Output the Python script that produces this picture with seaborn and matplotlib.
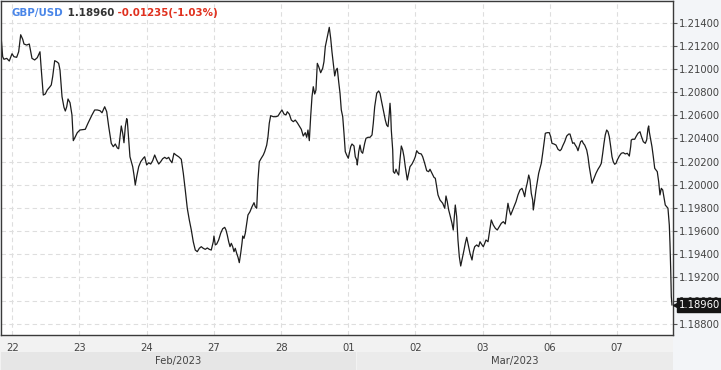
import matplotlib
matplotlib.use("Agg")
import matplotlib.pyplot as plt
import matplotlib.transforms as mtransforms
from matplotlib.patches import Rectangle
import seaborn as sns
import pandas as pd

# ---- data (x = trading-day position, 0 = Feb 22 tick) ----
day_pos = [
    -0.164, -0.143, -0.124, -0.083, -0.045, -0.004, 0.025, 0.065, 0.095, 0.125,
    0.155, 0.174, 0.214, 0.253, 0.293, 0.333, 0.372, 0.412, 0.432, 0.461,
    0.491, 0.521, 0.561, 0.580, 0.601, 0.631, 0.661, 0.690, 0.710, 0.740,
    0.769, 0.789, 0.810, 0.829, 0.859, 0.888, 0.908, 0.938, 0.967, 1.007,
    1.086, 1.126, 1.186, 1.226, 1.265, 1.305, 1.335, 1.375, 1.405, 1.435,
    1.454, 1.473, 1.503, 1.533, 1.563, 1.583, 1.603, 1.622, 1.643, 1.662,
    1.682, 1.702, 1.711, 1.732, 1.751, 1.771, 1.792, 1.811, 1.830, 1.851,
    1.881, 1.911, 1.949, 1.970, 2.000, 2.030, 2.060, 2.089, 2.119, 2.149,
    2.179, 2.208, 2.238, 2.268, 2.298, 2.327, 2.347, 2.376, 2.406, 2.436,
    2.476, 2.515, 2.545, 2.574, 2.604, 2.634, 2.664, 2.693, 2.723, 2.753,
    2.783, 2.812, 2.842, 2.872, 2.902, 2.932, 2.961, 2.991, 3.001, 3.021,
    3.042, 3.071, 3.101, 3.131, 3.161, 3.180, 3.199, 3.220, 3.240, 3.259,
    3.280, 3.299, 3.318, 3.339, 3.359, 3.378, 3.399, 3.418, 3.429, 3.448,
    3.467, 3.488, 3.507, 3.537, 3.567, 3.597, 3.616, 3.637, 3.656, 3.676,
    3.705, 3.735, 3.756, 3.786, 3.805, 3.824, 3.845, 3.884, 3.924, 3.954,
    3.984, 4.013, 4.043, 4.073, 4.092, 4.122, 4.152, 4.182, 4.211, 4.241,
    4.271, 4.301, 4.330, 4.360, 4.381, 4.400, 4.420, 4.440, 4.460, 4.479,
    4.500, 4.519, 4.539, 4.560, 4.589, 4.619, 4.638, 4.658, 4.679, 4.698,
    4.717, 4.738, 4.757, 4.777, 4.798, 4.817, 4.836, 4.857, 4.877, 4.896,
    4.917, 4.936, 4.955, 4.976, 5.000, 5.036, 5.055, 5.085, 5.104, 5.125,
    5.134, 5.155, 5.174, 5.193, 5.214, 5.244, 5.263, 5.293, 5.323, 5.353,
    5.372, 5.393, 5.423, 5.452, 5.472, 5.491, 5.512, 5.531, 5.551, 5.571,
    5.591, 5.610, 5.621, 5.631, 5.640, 5.661, 5.670, 5.690, 5.710, 5.729,
    5.750, 5.769, 5.789, 5.810, 5.829, 5.848, 5.878, 5.899, 5.918, 5.948,
    5.978, 5.997, 6.018, 6.048, 6.086, 6.107, 6.137, 6.167, 6.196, 6.216,
    6.246, 6.275, 6.295, 6.315, 6.335, 6.365, 6.405, 6.435, 6.454, 6.473,
    6.494, 6.513, 6.543, 6.562, 6.583, 6.592, 6.613, 6.632, 6.652, 6.673,
    6.692, 6.722, 6.741, 6.762, 6.781, 6.811, 6.841, 6.860, 6.881, 6.911,
    6.940, 6.960, 6.990, 7.009, 7.030, 7.049, 7.079, 7.098, 7.128, 7.158,
    7.188, 7.217, 7.247, 7.277, 7.307, 7.336, 7.357, 7.376, 7.396, 7.417,
    7.436, 7.466, 7.496, 7.525, 7.555, 7.585, 7.604, 7.625, 7.644, 7.664,
    7.685, 7.704, 7.723, 7.744, 7.753, 7.774, 7.793, 7.813, 7.833, 7.853,
    7.872, 7.893, 7.912, 7.932, 7.961, 7.991, 8.012, 8.031, 8.061, 8.091,
    8.121, 8.150, 8.170, 8.190, 8.220, 8.250, 8.280, 8.299, 8.318, 8.339,
    8.359, 8.378, 8.399, 8.418, 8.438, 8.458, 8.478, 8.497, 8.518, 8.548,
    8.567, 8.586, 8.607, 8.627, 8.646, 8.667, 8.686, 8.716, 8.746, 8.765,
    8.786, 8.805, 8.824, 8.845, 8.865, 8.884, 8.905, 8.924, 8.943, 8.964,
    8.984, 9.003, 9.033, 9.063, 9.092, 9.122, 9.152, 9.182, 9.202, 9.211,
    9.232, 9.262, 9.281, 9.311, 9.341, 9.360, 9.390, 9.420, 9.440, 9.460,
    9.470, 9.479, 9.500, 9.519, 9.539, 9.560, 9.579, 9.598, 9.619, 9.638,
    9.658, 9.679, 9.698, 9.717, 9.738, 9.757, 9.777, 9.787, 9.798, 9.807,
    9.817,
]

price = [
    1.21259, 1.21106, 1.21084, 1.21092, 1.21069, 1.21132, 1.21106, 1.21101, 1.21149, 1.21296,
    1.21257, 1.21216, 1.21207, 1.21216, 1.21092, 1.21078, 1.21098, 1.21149, 1.20991, 1.20775,
    1.20784, 1.20819, 1.20847, 1.20862, 1.20934, 1.21072, 1.21063, 1.21049, 1.20991, 1.20761,
    1.20669, 1.20637, 1.20674, 1.20741, 1.20709, 1.20603, 1.20381, 1.20415, 1.20450, 1.20473,
    1.20479, 1.20531, 1.20603, 1.20646, 1.20646, 1.20640, 1.20622, 1.20674, 1.20631, 1.20502,
    1.20430, 1.20358, 1.20329, 1.20352, 1.20318, 1.20311, 1.20410, 1.20508, 1.20445, 1.20363,
    1.20502, 1.20571, 1.20559, 1.20387, 1.20242, 1.20199, 1.20156, 1.20084, 1.19998, 1.20070,
    1.20156, 1.20199, 1.20229, 1.20242, 1.20171, 1.20190, 1.20179, 1.20208, 1.20257, 1.20214,
    1.20179, 1.20199, 1.20225, 1.20237, 1.20225, 1.20237, 1.20214, 1.20190, 1.20272, 1.20257,
    1.20242, 1.20220, 1.20099, 1.19955, 1.19797, 1.19696, 1.19609, 1.19508, 1.19436, 1.19422,
    1.19451, 1.19465, 1.19451, 1.19442, 1.19454, 1.19442, 1.19436, 1.19508, 1.19557, 1.19480,
    1.19488, 1.19523, 1.19581, 1.19620, 1.19632, 1.19609, 1.19566, 1.19508, 1.19465, 1.19494,
    1.19465, 1.19422, 1.19451, 1.19408, 1.19373, 1.19327, 1.19408, 1.19494, 1.19557, 1.19537,
    1.19581, 1.19667, 1.19739, 1.19767, 1.19810, 1.19845, 1.19810, 1.19797, 1.20041, 1.20199,
    1.20229, 1.20257, 1.20286, 1.20343, 1.20415, 1.20531, 1.20597, 1.20588, 1.20588, 1.20594,
    1.20622, 1.20646, 1.20611, 1.20603, 1.20631, 1.20611, 1.20559, 1.20545, 1.20559, 1.20536,
    1.20508, 1.20479, 1.20421, 1.20450, 1.20410, 1.20473, 1.20381, 1.20588, 1.20761, 1.20847,
    1.20784, 1.20819, 1.21049, 1.21020, 1.20968, 1.21006, 1.21063, 1.21193, 1.21251, 1.21308,
    1.21360, 1.21265, 1.21149, 1.21049, 1.20940, 1.20991, 1.21006, 1.20890, 1.20790, 1.20646,
    1.20588, 1.20445, 1.20286, 1.20257, 1.20229, 1.20329, 1.20352, 1.20335, 1.20242, 1.20214,
    1.20171, 1.20286, 1.20343, 1.20286, 1.20272, 1.20358, 1.20401, 1.20410, 1.20410, 1.20430,
    1.20531, 1.20674, 1.20790, 1.20810, 1.20790, 1.20732, 1.20674, 1.20617, 1.20559, 1.20516,
    1.20502, 1.20617, 1.20704, 1.20617, 1.20473, 1.20300, 1.20113, 1.20099, 1.20134, 1.20104,
    1.20084, 1.20214, 1.20335, 1.20300, 1.20242, 1.20156, 1.20041, 1.20099, 1.20156, 1.20179,
    1.20214, 1.20242, 1.20294, 1.20272, 1.20266, 1.20242, 1.20185, 1.20121, 1.20113, 1.20134,
    1.20099, 1.20064, 1.20056, 1.19983, 1.19912, 1.19868, 1.19840, 1.19797, 1.19903, 1.19854,
    1.19782, 1.19739, 1.19667, 1.19609, 1.19753, 1.19825, 1.19724, 1.19523, 1.19379, 1.19298,
    1.19350, 1.19436, 1.19494, 1.19546, 1.19494, 1.19408, 1.19350, 1.19422, 1.19465, 1.19480,
    1.19465, 1.19508, 1.19480, 1.19465, 1.19494, 1.19523, 1.19508, 1.19581, 1.19696, 1.19652,
    1.19624, 1.19609, 1.19638, 1.19667, 1.19681, 1.19661, 1.19753, 1.19840, 1.19782, 1.19739,
    1.19767, 1.19810, 1.19854, 1.19912, 1.19955, 1.19969, 1.19940, 1.19897, 1.19969, 1.20018,
    1.20084, 1.20041, 1.19926, 1.19868, 1.19782, 1.19868, 1.19955, 1.20026, 1.20099, 1.20142,
    1.20185, 1.20272, 1.20358, 1.20445, 1.20450, 1.20450, 1.20415, 1.20358, 1.20352, 1.20343,
    1.20306, 1.20294, 1.20306, 1.20335, 1.20372, 1.20421, 1.20438, 1.20438, 1.20401, 1.20358,
    1.20363, 1.20343, 1.20324, 1.20294, 1.20335, 1.20372, 1.20381, 1.20358, 1.20343, 1.20300,
    1.20242, 1.20156, 1.20084, 1.20013, 1.20041, 1.20070, 1.20099, 1.20134, 1.20162, 1.20185,
    1.20272, 1.20358, 1.20430, 1.20473, 1.20458, 1.20415, 1.20329, 1.20242, 1.20199, 1.20177,
    1.20185, 1.20214, 1.20248, 1.20272, 1.20277, 1.20266, 1.20272, 1.20248, 1.20329, 1.20387,
    1.20393, 1.20393, 1.20415, 1.20445, 1.20458, 1.20421, 1.20372, 1.20358, 1.20387, 1.20488,
    1.20508, 1.20458, 1.20393, 1.20329, 1.20242, 1.20142, 1.20128, 1.20113, 1.20026, 1.19912,
    1.19969, 1.19955, 1.19892, 1.19825, 1.19810, 1.19797, 1.19652, 1.19494, 1.19264, 1.19033,
    1.18960,
]

tick_days = [0, 1, 2, 3, 4, 5, 6, 7, 8, 9]
tick_labels = ["22", "23", "24", "27", "28", "01", "02", "03", "06", "07"]
price_ticks = [1.188, 1.190, 1.192, 1.194, 1.196, 1.198, 1.200,
               1.202, 1.204, 1.206, 1.208, 1.210, 1.212, 1.214]
month_labels = ["Feb/2023", "Mar/2023"]
month_starts = [-0.168, 5.13]
month_end = 9.832

symbol = "GBP/USD"
last_price = 1.18960
change = -0.01235
change_pct = -1.03

df = pd.DataFrame({"day": day_pos, "price": price})

# ---- figure ----
sns.set_style("white")
plt.rcParams["font.family"] = ["DejaVu Sans"]

W, H = 721, 370
fig = plt.figure(figsize=(W / 100, H / 100), dpi=100, facecolor="#f3f5f8")
ax = fig.add_axes([1 / W, 35 / H, 672 / W, 334 / H])
ax.set_facecolor("white")

sns.lineplot(data=df, x="day", y="price", ax=ax, color="#1c1c1c",
             linewidth=0.9, sort=False, estimator=None)

ax.set_xlim(-0.168, 9.832)
ax.set_ylim(1.18702, 1.215875)

ax.set_xticks(tick_days)
ax.set_xticklabels(tick_labels)
ax.set_yticks(price_ticks)
ax.set_yticklabels([f"{v:.5f}" for v in price_ticks])
ax.yaxis.tick_right()
ax.set_xlabel("")
ax.set_ylabel("")

ax.grid(True, color="#dedede", linestyle=(0, (4, 3)), linewidth=0.8)
ax.tick_params(axis="x", direction="out", length=4, width=0.8, color="#555",
               labelsize=7.2, labelcolor="#444", pad=2)
ax.tick_params(axis="y", direction="out", length=3, width=0.8, color="#555",
               labelsize=7.2, labelcolor="#444", pad=1.5, right=True, left=False)
for s in ax.spines.values():
    s.set_visible(True)
    s.set_color("#3a3a3a")
    s.set_linewidth(1.0)

# bottom bands
trans = mtransforms.blended_transform_factory(ax.transData, fig.transFigure)
fig.add_artist(Rectangle((0, 0), 673 / W, 35 / H, transform=fig.transFigure,
                         facecolor="#f2f2f2", edgecolor="none", zorder=-2))
band_cols = ["#e6e6e6", "#ebebeb"]
ends = [month_starts[1] - 0.02, month_end]
for lab, st, en, c in zip(month_labels, month_starts, ends, band_cols):
    fig.add_artist(Rectangle((st, 0), en - st, 18 / H, transform=trans,
                             facecolor=c, edgecolor="none", zorder=-1))
    fig.text((st + en) / 2, 9 / H, lab, transform=trans, ha="center",
             va="center", fontsize=7.2, color="#444")

# header
t1 = ax.text(11 / 672, 1 - 12 / 334, symbol, transform=ax.transAxes,
             fontsize=7.4, fontweight="bold", color="#4a86e8", va="center", ha="left")
t2 = ax.annotate(f" {last_price:.5f}", xy=(1, 0.5), xycoords=t1, va="center",
                 ha="left", fontsize=7.4, fontweight="bold", color="#333333")
ax.annotate(f" {change:.5f}({change_pct:.2f}%)", xy=(1, 0.5), xycoords=t2,
            va="center", ha="left", fontsize=7.4, fontweight="bold", color="#e0301e")

# last price tag: pointer + dark box
ytrans = mtransforms.blended_transform_factory(ax.transAxes, ax.transData)
ax.plot([1.0], [last_price], marker="<", markersize=7, color="#151515",
        transform=ytrans + mtransforms.ScaledTranslation(5 / 100, 0, fig.dpi_scale_trans),
        clip_on=False, zorder=9)
ax.annotate(f"{last_price:.5f}", xy=(1.0, last_price), xycoords=ytrans,
            xytext=(4.4, 0), textcoords="offset points", va="center", ha="left",
            fontsize=7.2, color="white",
            bbox=dict(boxstyle="square,pad=0.2", fc="#151515", ec="#151515"),
            annotation_clip=False, zorder=10)

fig.savefig("out.png", dpi=100, facecolor=fig.get_facecolor())
